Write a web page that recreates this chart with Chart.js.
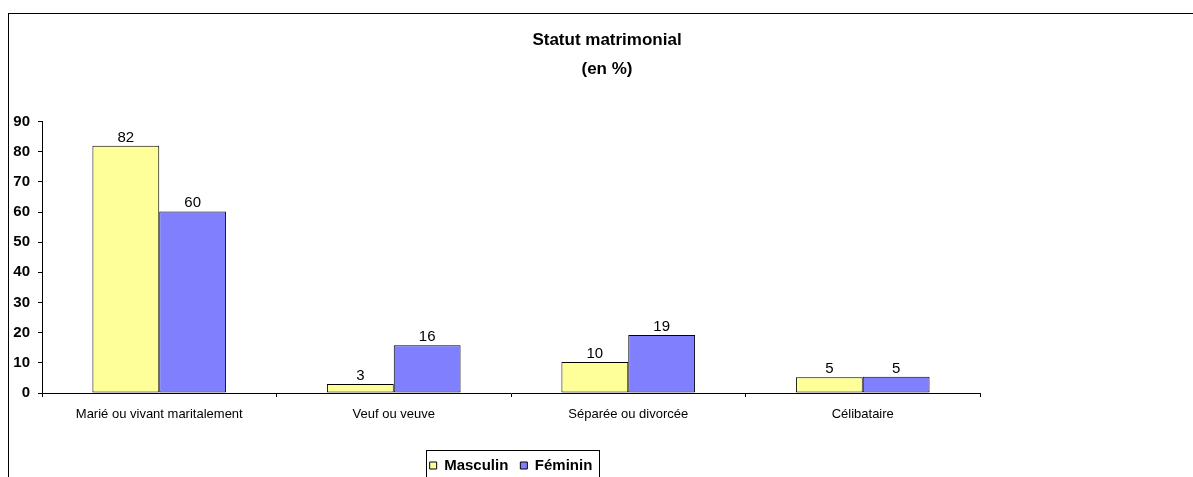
<!DOCTYPE html>
<html>
<head>
<meta charset="utf-8">
<script src="https://cdn.jsdelivr.net/npm/chart.js@4.4.0/dist/chart.umd.min.js"></script>
<style>
    body { margin: 0; background: #fff; overflow: hidden; width: 1193px; height: 477px; position: relative; }
    .frame { position: absolute; left: 8px; top: 13px; width: 1300px; height: 600px; border: 1px solid #000; box-shadow: 1px 1px 0 #888; }
    .chart-container { position: absolute; left: 0; top: 0; width: 1214px; height: 483px; }
</style>
</head>
<body>
<div class="frame"></div>
<div class="chart-container"><canvas id="statutChart"></canvas></div>
<script>
// Chart data
const categories = ['Marié ou vivant maritalement', 'Veuf ou veuve', 'Séparée ou divorcée', 'Célibataire'];
const masculin = [82, 3, 10.3, 5.2];
const feminin = [60.2, 15.8, 19.2, 5.4];
const yTicks = [0, 10, 20, 30, 40, 50, 60, 70, 80, 90];

const FONT = 'Arial, "Liberation Sans", sans-serif';

// Values printed above each bar
const valueLabels = {
    id: 'valueLabels',
    afterDatasetsDraw(chart) {
        const ctx = chart.ctx;
        ctx.save();
        ctx.font = '15px ' + FONT;
        ctx.fillStyle = '#000';
        ctx.textAlign = 'center';
        ctx.textBaseline = 'alphabetic';
        chart.data.datasets.forEach((ds, i) => {
            chart.getDatasetMeta(i).data.forEach((bar, j) => {
                ctx.fillText(Math.round(ds.data[j]), bar.x, bar.y - 4);
            });
        });
        ctx.restore();
    }
};

// Border round the legend
const legendBox = {
    id: 'legendBox',
    afterDraw(chart) {
        const boxes = chart.legend.legendHitBoxes;
        if (!boxes || !boxes.length) return;
        const first = boxes[0];
        const last = boxes[boxes.length - 1];
        const ctx = chart.ctx;
        ctx.save();
        ctx.strokeStyle = '#000';
        ctx.lineWidth = 1;
        ctx.strokeRect(Math.round(first.left - 4) + 0.5, Math.round(first.top - 8) + 0.5,
            Math.round(last.left + last.width - first.left + 10), 40);
        ctx.restore();
    }
};

const ctx = document.getElementById('statutChart').getContext('2d');
new Chart(ctx, {
    type: 'bar',
    data: {
        labels: categories,
        datasets: [{
            label: 'Masculin',
            data: masculin,
            backgroundColor: '#FFFF99',
            borderColor: '#000',
            borderWidth: 1,
            borderSkipped: false,
            categoryPercentage: 0.57,
            barPercentage: 1
        }, {
            label: 'Féminin',
            data: feminin,
            backgroundColor: '#8080FF',
            borderColor: '#000',
            borderWidth: 1,
            borderSkipped: false,
            categoryPercentage: 0.57,
            barPercentage: 1
        }]
    },
    options: {
        responsive: true,
        maintainAspectRatio: false,
        animation: false,
        layout: { padding: 0 },
        plugins: {
            title: {
                display: true,
                text: ['Statut matrimonial', '(en %)'],
                color: '#000',
                font: { size: 17, family: FONT, weight: 'bold', lineHeight: 1.75 },
                padding: { top: 25, bottom: 37 }
            },
            legend: {
                position: 'bottom',
                fullSize: false,
                labels: {
                    color: '#000',
                    boxWidth: 7,
                    boxHeight: 7,
                    padding: 12,
                    font: { size: 15, family: FONT, weight: 'bold' }
                }
            },
            tooltip: { enabled: false }
        },
        scales: {
            x: {
                grid: {
                    display: true,
                    drawOnChartArea: false,
                    drawTicks: true,
                    tickLength: 4,
                    color: '#000'
                },
                border: { color: '#000' },
                ticks: {
                    color: '#000',
                    padding: 10,
                    maxRotation: 0,
                    font: { size: 13, family: FONT }
                },
                afterFit: scale => { scale.height = 53; }
            },
            y: {
                min: 0,
                max: 90,
                afterBuildTicks: scale => { scale.ticks = yTicks.map(v => ({ value: v })); },
                grid: {
                    display: true,
                    drawOnChartArea: false,
                    drawTicks: true,
                    tickLength: 4,
                    color: '#000'
                },
                border: { color: '#000' },
                ticks: {
                    color: '#000',
                    padding: 8,
                    font: { size: 15, family: FONT, weight: 'bold' }
                },
                afterFit: scale => { scale.width = 42; }
            },
            yr: {
                position: 'right',
                grid: { display: false },
                border: { display: false },
                ticks: { display: false },
                afterFit: scale => { scale.width = 234; }
            }
        }
    },
    plugins: [valueLabels, legendBox]
});
</script>
</body>
</html>
